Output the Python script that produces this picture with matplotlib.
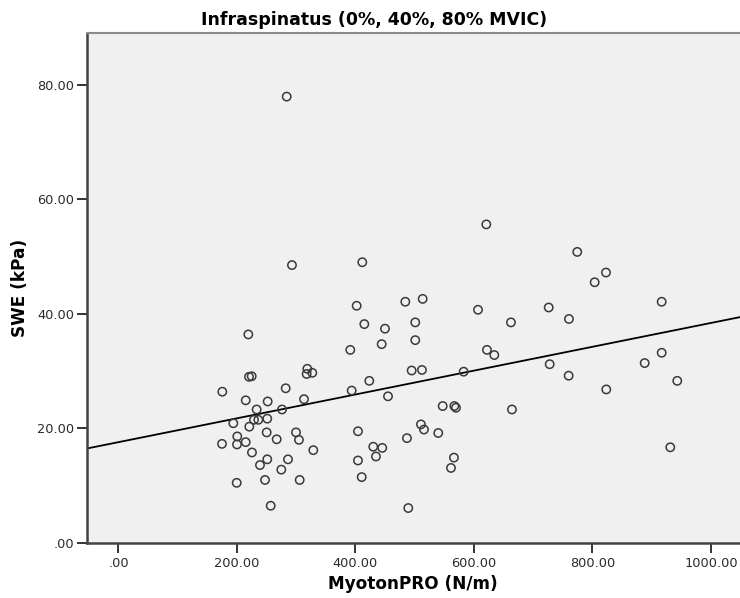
import numpy as np
import matplotlib
matplotlib.use("Agg")
import matplotlib.pyplot as plt
from matplotlib.ticker import FuncFormatter

# MyotonPRO stiffness (N/m) vs shear wave elastography (kPa)
myoton = [283.9, 620.8, 774.3, 822.8, 803.7, 292.8, 411.5,
          402.0, 484.1, 513.4, 606.8, 662.4, 414.9, 449.8, 500.9, 391.2,
          444.2, 500.9, 621.9, 634.3, 494.8, 512.2, 582.6, 423.3, 393.6,
          454.9, 547.2, 566.8, 569.6, 664.1, 404.2, 510.5, 515.6, 539.7,
          486.9, 430.0, 445.2, 434.6, 404.2, 566.2, 561.2, 410.5, 489.1,
          726.1, 760.3, 916.8, 727.8, 759.8, 823.3, 888.1, 916.8, 943.1,
          931.3,
          219.1, 220.3, 224.8, 318.7, 317.6, 327.1, 175.2, 282.2, 214.7,
          251.8, 313.1, 233.2, 276.0, 193.8, 228.7, 236.0, 251.1, 220.8,
          200.5, 250.1, 267.0, 299.6, 304.6, 174.7, 200.0, 214.7, 225.3,
          251.1, 286.1, 328.8, 238.8, 274.8, 199.5, 247.3, 305.8, 256.9]
swe = [77.9, 55.6, 50.8, 47.2, 45.5, 48.5, 49.0,
       41.4, 42.1, 42.6, 40.7, 38.5, 38.2, 37.4, 38.5, 33.7,
       34.7, 35.4, 33.7, 32.8, 30.1, 30.2, 29.9, 28.3, 26.6,
       25.6, 23.9, 23.9, 23.6, 23.3, 19.5, 20.7, 19.8, 19.2,
       18.3, 16.8, 16.6, 15.1, 14.4, 14.9, 13.1, 11.5, 6.1,
       41.1, 39.1, 42.1, 31.2, 29.2, 26.8, 31.4, 33.2, 28.3,
       16.7,
       36.4, 29.0, 29.1, 30.4, 29.5, 29.7, 26.4, 27.0, 24.9,
       24.7, 25.1, 23.3, 23.3, 20.9, 21.5, 21.5, 21.7, 20.3,
       18.6, 19.3, 18.1, 19.3, 18.0, 17.3, 17.2, 17.6, 15.8,
       14.6, 14.6, 16.2, 13.6, 12.8, 10.5, 11.0, 11.0, 6.5]

# fit line (intercept, slope) as drawn in the figure
fit_intercept = 17.6
fit_slope = 0.0208

x_ticks = [0, 200, 400, 600, 800, 1000]
y_ticks = [0, 20, 40, 60, 80]
x_lim = (-54, 1049)
y_lim = (0, 89)


def spss_fmt(v, pos):
    s = f"{v:.2f}"
    if s.startswith("0."):
        s = s[1:]
    return s


fig = plt.figure(figsize=(7.4, 5.98), dpi=100)
ax = fig.add_axes([86.5 / 740, 1 - 543 / 598, 1 - 86.5 / 740, 510 / 598])
ax.set_facecolor("#f0f0f0")

ax.scatter(myoton, swe, s=36, facecolors="none", edgecolors="#3a3a3a",
           linewidths=1.1, zorder=3)

xs = np.array(x_lim, dtype=float)
ax.plot(xs, fit_intercept + fit_slope * xs, color="black", lw=1.3, zorder=2)

ax.set_xlim(*x_lim)
ax.set_ylim(*y_lim)
ax.set_xticks(x_ticks)
ax.set_yticks(y_ticks)
ax.xaxis.set_major_formatter(FuncFormatter(spss_fmt))
ax.yaxis.set_major_formatter(FuncFormatter(spss_fmt))
ax.tick_params(axis="both", direction="out", length=7, width=1.4,
               color="#333333", labelsize=9.3, labelcolor="#2a2a2a")
ax.tick_params(axis="x", pad=3)
ax.tick_params(axis="y", pad=2)

ax.spines["right"].set_visible(False)
ax.spines["top"].set_color("#8a8a8a")
ax.spines["top"].set_linewidth(1.5)
for side in ["left", "bottom"]:
    ax.spines[side].set_color("#444444")
    ax.spines[side].set_linewidth(1.8)

fig.text(374 / 740, 1 - 20 / 598, "Infraspinatus (0%, 40%, 80% MVIC)",
         ha="center", va="center", fontsize=12.5, fontweight="bold")
fig.text(413 / 740, 1 - 584 / 598, "MyotonPRO (N/m)",
         ha="center", va="center", fontsize=12.2, fontweight="bold")
fig.text(20 / 740, 1 - 288 / 598, "SWE (kPa)", rotation=90,
         ha="center", va="center", fontsize=12.2, fontweight="bold")

fig.savefig("out.png", dpi=100, facecolor="white")
